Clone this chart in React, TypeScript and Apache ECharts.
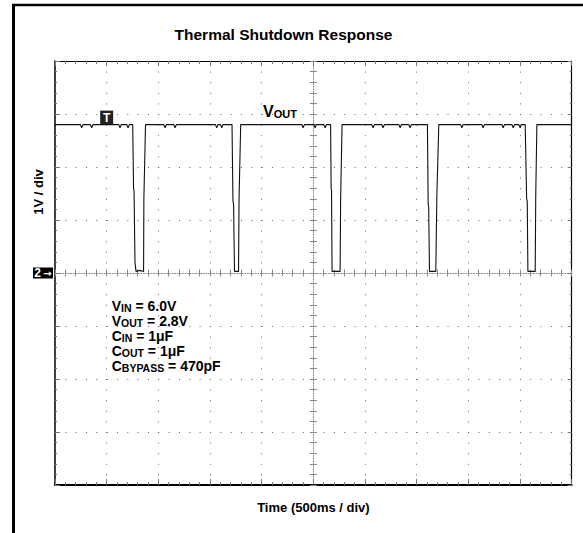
import React, { useEffect, useRef } from 'react';
import * as echarts from 'echarts';

const FONT = '"Liberation Sans", Arial, Helvetica, sans-serif';

const titleText = 'Thermal Shutdown Response';
const xAxisTitle = 'Time (500ms / div)';
const yAxisTitle = '1V / div';
const traceLabel = ['V', 'OUT'];

// time axis: 500 ms / div, 10 divisions
const timeMin = 0;
const timeMax = 5000;
const timeDiv = 500;
// voltage axis: 1 V / div, 8 divisions, channel-2 ground at centre
const voltMin = -4;
const voltMax = 4;
const voltDiv = 1;

const channelMarker = ['2', '→'];
const triggerMarker = 'T';
const triggerTime = 500;
const triggerLevel = 2.8;

// [time ms, volts]
const vout: [number, number][] = [
  [0, 2.8],
  [246, 2.8], [258, 2.74], [270, 2.8],
  [343, 2.8], [355, 2.74], [367, 2.8],
  [617, 2.8], [629, 2.74], [641, 2.8],
  [695, 2.8], [707, 2.74], [719, 2.8],
  [752, 2.8], [760, 1.6], [765, 1.55], [774, 0.2], [784, 0.03], [820, 0.05], [857, 0.03], [860, 1.4], [876, 2.8],
  [1053, 2.8], [1065, 2.74], [1077, 2.8],
  [1150, 2.8], [1162, 2.74], [1174, 2.8],
  [1553, 2.8], [1565, 2.74], [1577, 2.8],
  [1602, 2.8], [1614, 2.74], [1626, 2.8],
  [1713, 2.8], [1722, 1.35], [1728, 1.3], [1737, 0.03], [1776, 0.03], [1781, 1.4], [1797, 2.8],
  [2389, 2.8], [2401, 2.74], [2413, 2.8],
  [2505, 2.8], [2517, 2.74], [2529, 2.8],
  [2602, 2.8], [2614, 2.74], [2626, 2.8],
  [2667, 2.8], [2672, 1.6], [2676, 1.55], [2681, 0.03], [2759, 0.03], [2764, 1.4], [2778, 2.8],
  [3066, 2.8], [3078, 2.74], [3090, 2.8],
  [3163, 2.8], [3175, 2.74], [3187, 2.8],
  [3328, 2.8], [3340, 2.74], [3352, 2.8],
  [3424, 2.8], [3436, 2.74], [3448, 2.8],
  [3604, 2.8], [3611, 1.3], [3616, 1.25], [3624, 0.03], [3685, 0.03], [3695, 1.45], [3714, 2.8],
  [3925, 2.8], [3937, 2.74], [3949, 2.8],
  [4131, 2.8], [4143, 2.74], [4155, 2.8],
  [4325, 2.8], [4337, 2.74], [4349, 2.8],
  [4422, 2.8], [4434, 2.74], [4446, 2.8],
  [4489, 2.8], [4501, 2.74], [4513, 2.8],
  [4550, 2.8], [4564, 1.4], [4570, 1.35], [4576, 0.03], [4647, 0.03], [4652, 1.45], [4663, 2.8],
  [5000, 2.8],
];

// [main, subscript, rest]
const conditions: [string, string, string][] = [
  ['V', 'IN', ' = 6.0V'],
  ['V', 'OUT', ' = 2.8V'],
  ['C', 'IN', ' = 1μF'],
  ['C', 'OUT', ' = 1μF'],
  ['C', 'BYPASS', ' = 470pF'],
];

const GRID = { left: 55, right: 11.3, top: 61, bottom: 48 };
const CENTER_COLOR = '#8a8a8a';

function borderX(position: 'top' | 'bottom', lineWidth: number, major: number, minor: number) {
  return {
    type: 'value', position, min: timeMin, max: timeMax, interval: timeDiv,
    axisLine: { show: true, onZero: false, lineStyle: { color: '#000', width: lineWidth } },
    axisTick: { show: true, inside: true, length: major, lineStyle: { color: '#777', width: 1 } },
    minorTick: { show: true, splitNumber: 5, length: minor, lineStyle: { color: '#777', width: 1 } },
    axisLabel: { show: false },
    splitLine: { show: false },
  };
}

function borderY(position: 'left' | 'right', lineWidth: number, major: number, minor: number, label: boolean) {
  return {
    type: 'value', position, min: voltMin, max: voltMax, interval: voltDiv,
    axisLine: { show: true, onZero: false, lineStyle: { color: '#000', width: lineWidth } },
    axisTick: { show: true, inside: true, length: major, lineStyle: { color: '#777', width: 1 } },
    minorTick: { show: true, splitNumber: 5, length: minor, lineStyle: { color: '#777', width: 1 } },
    axisLabel: label
      ? {
          show: true, margin: 2,
          formatter: (v: number) => (v === 0 ? '{m|' + channelMarker[0] + '}{n|' + channelMarker[1] + '}' : ''),
          rich: {
            m: {
              backgroundColor: '#000', color: '#fff', fontWeight: 'bold', fontSize: 12,
              fontFamily: FONT, width: 9, height: 11, lineHeight: 11, align: 'right',
            },
            n: {
              backgroundColor: '#000', color: '#fff', fontWeight: 'bold', fontSize: 10,
              fontFamily: '"DejaVu Sans", sans-serif', width: 11, height: 11, lineHeight: 11, align: 'left',
            },
          },
        }
      : { show: false },
    splitLine: { show: false },
  };
}

function centerX(inside: boolean, line: boolean) {
  return {
    type: 'value', position: 'bottom', min: timeMin, max: timeMax, interval: timeDiv,
    axisLine: { show: line, onZero: true, onZeroAxisIndex: 0, lineStyle: { color: CENTER_COLOR, width: 1, type: [1, 1.6] } },
    axisTick: { show: true, inside, length: 3.5, lineStyle: { color: CENTER_COLOR, width: 1 } },
    minorTick: { show: true, splitNumber: 5, length: 3.5, lineStyle: { color: CENTER_COLOR, width: 1 } },
    axisLabel: { show: false }, splitLine: { show: false },
  };
}

function centerY(inside: boolean, line: boolean) {
  return {
    type: 'value', position: 'left', offset: -258.35, min: voltMin, max: voltMax, interval: voltDiv,
    axisLine: { show: line, onZero: false, lineStyle: { color: CENTER_COLOR, width: 1, type: [1, 1.6] } },
    axisTick: { show: true, inside, length: 3.5, lineStyle: { color: CENTER_COLOR, width: 1 } },
    minorTick: { show: true, splitNumber: 5, length: 3.5, lineStyle: { color: CENTER_COLOR, width: 1 } },
    axisLabel: { show: false }, splitLine: { show: false },
  };
}

export default function App() {
  const ref = useRef<HTMLDivElement>(null);

  useEffect(() => {
    if (!ref.current) return;
    const chart = echarts.init(ref.current, undefined, { renderer: 'svg' });

    const condGraphics = conditions.map((c, i) => ({
      type: 'text',
      x: 111.7,
      y: 313.2 + i * 15,
      z: 10,
      style: {
        text: '{a|' + c[0] + '}{b|' + c[1] + '}{a|' + c[2] + '}',
        align: 'left',
        verticalAlign: 'bottom',
        fill: '#000',
        rich: {
          a: { fontSize: 14, fontWeight: 'bold', fontFamily: FONT, lineHeight: 14, verticalAlign: 'bottom', fill: '#000' },
          b: { fontSize: 10.5, fontWeight: 'bold', fontFamily: FONT, lineHeight: 10.5, verticalAlign: 'bottom', fill: '#000' },
        },
      },
    }));

    const option: any = {
      animation: false,
      backgroundColor: '#fff',
      grid: { ...GRID, containLabel: false, outerBoundsMode: 'none' },
      xAxis: [
        {
          ...borderX('bottom', 2, 6, 3),
          splitLine: { show: true, lineStyle: { color: '#666', width: 1, type: [1, 9.6] } },
        },
        borderX('top', 1, 5, 3),
        centerX(true, true),
        centerX(false, false),
      ],
      yAxis: [
        {
          ...borderY('left', 1.5, 5, 2, true),
          splitLine: { show: true, lineStyle: { color: '#666', width: 1, type: [1, 9.33] } },
        },
        borderY('right', 1.2, 4, 2, false),
        centerY(true, true),
        centerY(false, false),
      ],
      series: [
        {
          type: 'line',
          xAxisIndex: 0,
          yAxisIndex: 0,
          data: vout,
          showSymbol: false,
          symbol: 'none',
          z: 5,
          lineStyle: { color: '#111', width: 1.1 },
          markPoint: {
            symbol: 'rect',
            symbolSize: [13, 14],
            symbolOffset: [0, -7],
            itemStyle: { color: '#222' },
            label: { show: true, position: 'inside', formatter: triggerMarker, color: '#fff', fontWeight: 'bold', fontSize: 12, fontFamily: FONT },
            data: [{ coord: [triggerTime, triggerLevel] }],
          },
        },
      ],
      graphic: [
        { type: 'line', shape: { x1: 13.5, y1: 5, x2: 13.5, y2: 533 }, style: { stroke: '#000', lineWidth: 3 } },
        { type: 'line', shape: { x1: 12, y1: 5, x2: 583, y2: 5 }, style: { stroke: '#000', lineWidth: 2.5 } },
        {
          type: 'text', x: 283.5, y: 34.1,
          style: { text: titleText, align: 'center', verticalAlign: 'middle', fontSize: 15.5, fontWeight: 'bold', fontFamily: FONT, fill: '#000' },
        },
        {
          type: 'text', x: 38, y: 192, rotation: Math.PI / 2,
          style: { text: yAxisTitle, align: 'center', verticalAlign: 'middle', fontSize: 13, fontWeight: 'bold', fontFamily: FONT, fill: '#000' },
        },
        {
          type: 'text', x: 313.4, y: 507,
          style: { text: xAxisTitle, align: 'center', verticalAlign: 'middle', fontSize: 13, fontWeight: 'bold', fontFamily: FONT, fill: '#000' },
        },
        {
          type: 'text', x: 263, y: 119.5, z: 10,
          style: {
            text: '{a|' + traceLabel[0] + '}{b|' + traceLabel[1] + '}',
            align: 'left', verticalAlign: 'bottom', fill: '#000',
            rich: {
              a: { fontSize: 16, fontWeight: 'bold', fontFamily: FONT, lineHeight: 16, verticalAlign: 'bottom', fill: '#000' },
              b: { fontSize: 11, fontWeight: 'bold', fontFamily: FONT, lineHeight: 11, verticalAlign: 'bottom', fill: '#000' },
            },
          },
        },
        ...condGraphics,
      ],
    };

    chart.setOption(option);
    return () => chart.dispose();
  }, []);

  return (
    <div
      ref={ref}
      style={{ position: 'absolute', left: 0, top: 0, width: 583, height: 533, background: '#fff' }}
    />
  );
}
